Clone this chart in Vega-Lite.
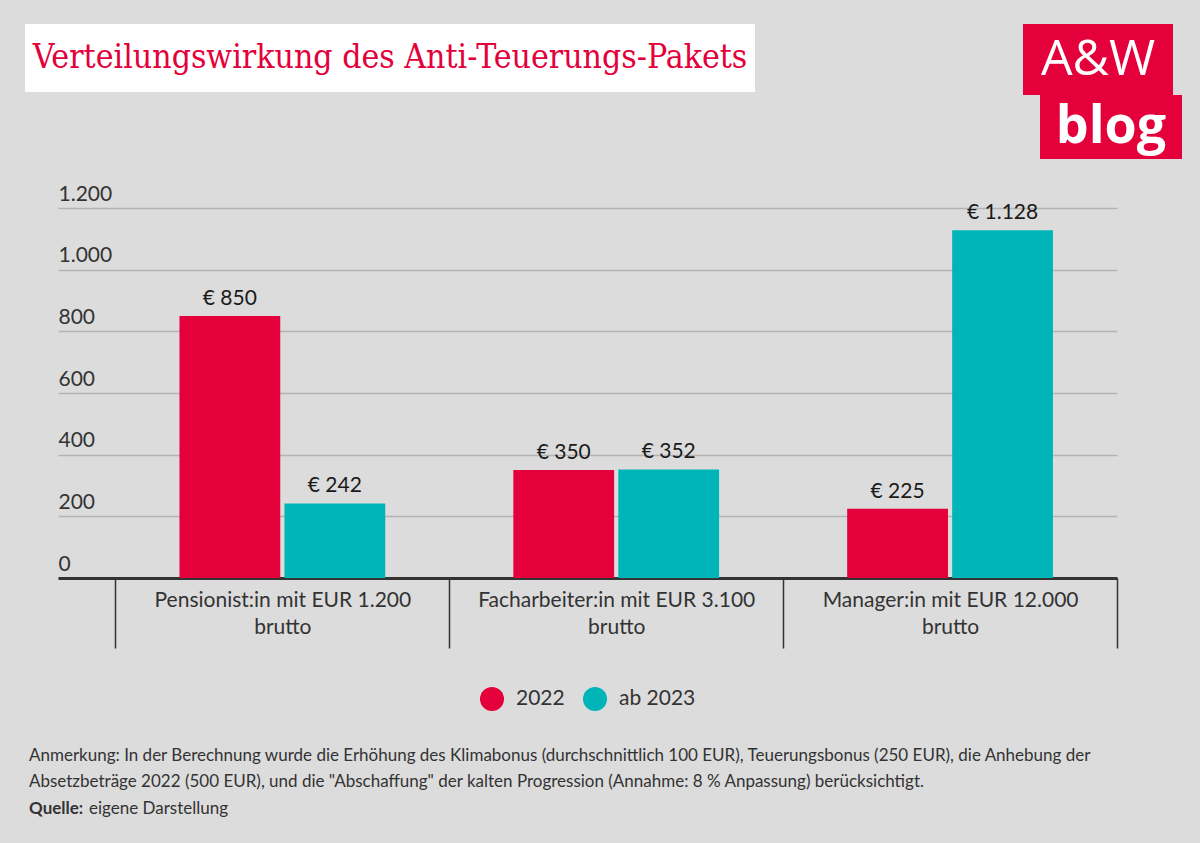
{
  "$schema": "https://vega.github.io/schema/vega-lite/v6.json",
  "background": "#dcdcdc",
  "padding": {"left": 25, "top": 24, "right": 18, "bottom": 26},
  "spacing": 24,
  "resolve": {"legend": {"color": "independent"}},
  "config": {
    "view": {"stroke": null},
    "font": "Lato",
    "legend": {"layout": {"bottom": {"anchor": "middle"}}},
    "title": {"font": "Lato", "fontSize": 17, "fontWeight": "normal", "color": "#333333", "anchor": "start", "frame": "group", "offset": 0, "lineHeight": 26, "baseline": "top", "dx": 4},
    "locale": {"number": {"decimal": ",", "thousands": ".", "grouping": [3], "currency": ["€ ", ""]}}
  },
  "vconcat": [
    {
      "spacing": 268,
      "hconcat": [
        {
          "width": 730,
          "height": 68,
          "view": {"fill": "white", "stroke": null},
          "data": {"values": [{"t": "Verteilungswirkung des Anti-Teuerungs-Pakets"}]},
          "mark": {"type": "text", "font": "DejaVu Serif Condensed", "fontSize": 33.5, "color": "#E4003A", "baseline": "middle", "align": "center"},
          "encoding": {"text": {"field": "t", "type": "nominal"}}
        },
        {
          "spacing": 0,
          "vconcat": [
            {
              "width": 150,
              "height": 71,
              "view": {"fill": "#E4003A", "stroke": null},
              "data": {"values": [{"t": "A&W"}]},
              "mark": {"type": "text", "font": "Open Sans", "fontSize": 50, "color": "white", "baseline": "middle", "align": "center"},
              "encoding": {"text": {"field": "t", "type": "nominal"}}
            },
            {
              "spacing": 16,
              "hconcat": [
                {"width": 1, "height": 1, "data": {"values": []}, "mark": {"type": "point", "opacity": 0}},
                {
                  "width": 142,
                  "height": 64,
                  "view": {"fill": "#E4003A", "stroke": null},
                  "data": {"values": [{"t": "blog"}]},
                  "mark": {"type": "text", "font": "Open Sans", "fontSize": 52, "fontWeight": "bold", "color": "white", "baseline": "middle", "align": "center"},
                  "encoding": {"text": {"field": "t", "type": "nominal"}}
                }
              ]
            }
          ]
        }
      ]
    },
    {
      "spacing": 36,
      "resolve": {"legend": {"color": "independent"}},
      "vconcat": [
        {
          "spacing": 32,
          "resolve": {"legend": {"color": "independent"}},
          "hconcat": [
            {"width": 1, "height": 1, "data": {"values": []}, "mark": {"type": "point", "opacity": 0}},
            {
              "width": 1059,
              "height": 370,
              "data": {
                "values": [
                  {"group": "Pensionist:in mit EUR 1.200 brutto", "year": "2022", "value": 850},
                  {"group": "Pensionist:in mit EUR 1.200 brutto", "year": "ab 2023", "value": 242},
                  {"group": "Facharbeiter:in mit EUR 3.100 brutto", "year": "2022", "value": 350},
                  {"group": "Facharbeiter:in mit EUR 3.100 brutto", "year": "ab 2023", "value": 352},
                  {"group": "Manager:in mit EUR 12.000 brutto", "year": "2022", "value": 225},
                  {"group": "Manager:in mit EUR 12.000 brutto", "year": "ab 2023", "value": 1128}
                ]
              },
              "encoding": {
                "x": {
                  "field": "group",
                  "type": "nominal",
                  "sort": null,
                  "scale": {"paddingInner": 0, "paddingOuter": 0.086, "align": 1},
                  "axis": {
                    "title": null,
                    "tickBand": "extent",
                    "ticks": true,
                    "tickSize": 70,
                    "tickColor": "#333333",
                    "tickWidth": 1.5,
                    "domain": true,
                    "domainColor": "#333333",
                    "domainWidth": 3,
                    "grid": false,
                    "labelAngle": 0,
                    "labelPadding": -59,
                    "labelBaseline": "top",
                    "labelFont": "Lato",
                    "labelFontSize": 21,
                    "labelColor": "#333333",
                    "labelLineHeight": 27,
                    "labelLimit": 400,
                    "labelExpr": "datum.label ? [replace(datum.label, ' brutto', ''), 'brutto'] : ''"
                  }
                },
                "xOffset": {
                  "field": "year",
                  "type": "nominal",
                  "sort": null,
                  "scale": {"paddingInner": 0.04, "paddingOuter": 0.61}
                },
                "y": {
                  "field": "value",
                  "type": "quantitative",
                  "scale": {"domain": [0, 1200]},
                  "axis": {
                    "title": null,
                    "values": [0, 200, 400, 600, 800, 1000, 1200],
                    "format": ",.0f",
                    "domain": false,
                    "ticks": false,
                    "grid": true,
                    "gridColor": "#b3b3b3",
                    "gridWidth": 1.5,
                    "labelAlign": "left",
                    "labelBaseline": "alphabetic",
                    "labelPadding": 0,
                    "labelOffset": -8,
                    "labelFlush": false,
                    "labelOverlap": false,
                    "labelFont": "Lato",
                    "labelFontSize": 21,
                    "labelColor": "#333333"
                  }
                }
              },
              "layer": [
                {
                  "mark": {"type": "bar"},
                  "encoding": {
                    "color": {
                      "field": "year",
                      "type": "nominal",
                      "sort": null,
                      "scale": {"domain": ["2022", "ab 2023"], "range": ["#E4003A", "#00B5B8"]},
                      "legend": {
                        "title": null,
                        "orient": "bottom",
                        "direction": "horizontal",
                        "symbolType": "circle",
                        "symbolSize": 576,
                        "symbolStrokeWidth": 0,
                        "labelFont": "Lato",
                        "labelFontSize": 21,
                        "labelColor": "#333333",
                        "labelOffset": 12,
                        "columnPadding": 18,
                        "offset": 38
                      }
                    }
                  }
                },
                {
                  "mark": {"type": "text", "baseline": "bottom", "dy": -7, "font": "Lato", "fontSize": 21, "color": "#1a1a1a"},
                  "encoding": {
                    "text": {"field": "value", "type": "quantitative", "format": "$,"}
                  }
                }
              ]
            }
          ]
        },
        {
          "spacing": 4,
          "vconcat": [
            {
              "width": 1,
              "height": 1,
              "data": {"values": []},
              "mark": {"type": "point", "opacity": 0},
              "title": {
                "text": [
                  "Anmerkung: In der Berechnung wurde die Erhöhung des Klimabonus (durchschnittlich 100 EUR), Teuerungsbonus (250 EUR), die Anhebung der",
                  "Absetzbeträge 2022 (500 EUR), und die \"Abschaffung\" der kalten Progression (Annahme: 8 % Anpassung) berücksichtigt."
                ]
              }
            },
            {
              "spacing": 5,
              "hconcat": [
                {
                  "width": 1,
                  "height": 1,
                  "data": {"values": []},
                  "mark": {"type": "point", "opacity": 0},
                  "title": {"text": "Quelle:", "fontWeight": "bold"}
                },
                {
                  "width": 1,
                  "height": 1,
                  "data": {"values": []},
                  "mark": {"type": "point", "opacity": 0},
                  "title": {"text": "eigene Darstellung", "dx": 0}
                }
              ]
            }
          ]
        }
      ]
    }
  ]
}
